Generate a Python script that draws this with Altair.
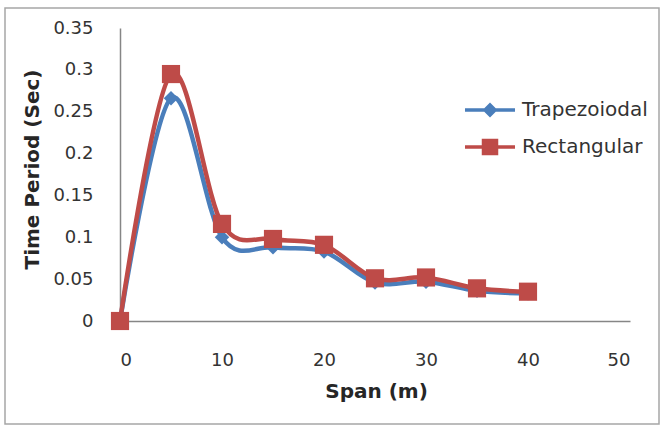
import altair as alt
import pandas as pd

# ---- data ----
span = [0, 5, 10, 15, 20, 25, 30, 35, 40]
trapezoidal = [0, 0.266, 0.100, 0.088, 0.083, 0.046, 0.047, 0.036, 0.033]
rectangular = [0, 0.295, 0.116, 0.098, 0.091, 0.051, 0.052, 0.039, 0.035]
series_names = ["Trapezoiodal", "Rectangular"]
x_ticks = [0, 10, 20, 30, 40, 50]
y_ticks = [0, 0.05, 0.1, 0.15, 0.2, 0.25, 0.3, 0.35]

df = pd.DataFrame({
    "Span": span + span,
    "Time": trapezoidal + rectangular,
    "Series": [series_names[0]] * len(span) + [series_names[1]] * len(span),
})

BLUE = "#4A7EBB"
RED = "#BE4B48"
FONT = "DejaVu Sans"
series_colors = {series_names[0]: BLUE, series_names[1]: RED}

color_scale = alt.Scale(domain=series_names, range=[BLUE, RED])

# legend symbols: line with marker (unit = sqrt(size)/2 px)
trap_sym = "M-1.667,-0.11H1.667V0.11H-1.667Z M0,-0.5L0.5,0L0,0.5L-0.5,0Z"
rect_sym = "M-1.667,-0.11H1.667V0.11H-1.667Z M-0.55,-0.55H0.55V0.55H-0.55Z"
shape_scale = alt.Scale(domain=series_names, range=[trap_sym, rect_sym])

x_enc = alt.X(
    "Span:Q",
    scale=alt.Scale(domain=[0, 50], nice=False, zero=False),
    axis=alt.Axis(values=x_ticks, format="d", title="Span (m)",
                  labelPadding=39, labelBaseline="middle",
                  titleX=256, titleY=70, titleBaseline="middle", titleAnchor="middle"),
)
y_enc = alt.Y(
    "Time:Q",
    scale=alt.Scale(domain=[0, 0.35], nice=False),
    axis=alt.Axis(values=y_ticks, format="~g", title="Time Period (Sec)",
                  labelPadding=27,
                  titleX=-88, titleY=141, titleAngle=-90, titleBaseline="middle",
                  titleAlign="center"),
)

base = alt.Chart(df).encode(x=x_enc, y=y_enc)

def line_layer(name):
    return base.transform_filter(alt.datum.Series == name).mark_line(
        interpolate="cardinal", strokeWidth=4.5, color=series_colors[name]
    )

def point_layer(name, shape, size):
    return base.transform_filter(alt.datum.Series == name).mark_point(
        filled=True, shape=shape, size=size, opacity=1, color=series_colors[name]
    )

legend_props = dict(
    title=None, orient="none", legendX=355, legendY=67, padding=0,
    symbolSize=900, labelOffset=17, rowPadding=12,
    labelFont=FONT, labelFontSize=20, labelColor="#333333",
    symbolOpacity=1, symbolStrokeWidth=0,
)

legend_layer = base.mark_point(filled=True, opacity=0).encode(
    color=alt.Color("Series:N", scale=color_scale, legend=alt.Legend(**legend_props)),
    shape=alt.Shape("Series:N", scale=shape_scale, legend=alt.Legend(**legend_props)),
)

frame = alt.Chart(pd.DataFrame({"f": [0]})).mark_rect(
    fill="transparent", stroke="#a6a6a6", strokeWidth=1.5
).encode(
    x=alt.value(-115), x2=alt.value(539), y=alt.value(-20), y2=alt.value(396)
)

chart = alt.layer(
    frame,
    line_layer(series_names[0]),
    point_layer(series_names[0], "diamond", 210),
    line_layer(series_names[1]),
    point_layer(series_names[1], "square", 330),
    legend_layer,
).properties(
    width=510, height=293,
    autosize=alt.AutoSizeParams(type="none"),
    padding={"left": 120, "top": 28, "right": 33, "bottom": 107},
    background="white",
).configure_view(stroke=None).configure_axis(
    grid=False, ticks=False, tickSize=0,
    domainColor="#868686", domainWidth=1.5,
    labelFont=FONT, labelFontSize=18, labelColor="#333333",
    titleFont=FONT, titleFontSize=20, titleFontWeight="bold", titleColor="#262626",
)

chart.save("out.html", embed_options={"renderer": "svg", "actions": False})
